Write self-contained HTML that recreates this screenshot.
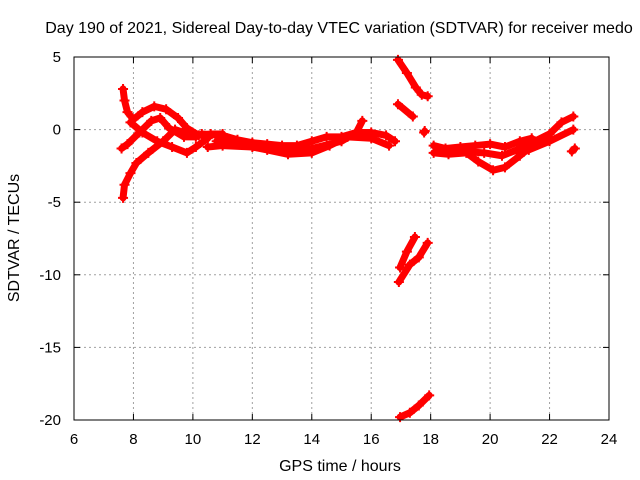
<!DOCTYPE html>
<html><head><meta charset="utf-8"><style>
body{margin:0;background:#fff}
svg{display:block;font-family:"Liberation Sans",sans-serif}
</style></head><body>
<svg id="chart" width="640" height="480">
<rect width="640" height="480" fill="#fff"/>
<text x="339" y="33" font-size="16" text-anchor="middle">Day 190 of 2021, Sidereal Day-to-day VTEC variation (SDTVAR) for receiver medo</text>
<g id="grid"></g>
<g id="series"></g>
<rect x="74" y="57" width="535" height="363" fill="none" stroke="#000" stroke-width="1"/>
<g id="ticks"></g>
<text x="340" y="471" font-size="16" text-anchor="middle">GPS time / hours</text>
<text transform="translate(19,238) rotate(-90)" font-size="16" text-anchor="middle">SDTVAR / TECUs</text>
</svg>
<script>
const xTicks=[6,8,10,12,14,16,18,20,22,24];
const yTicks=[5,0,-5,-10,-15,-20];
const trackA=[[7.65,2.8],[7.7,2],[7.8,1.2],[8.0,0.7],[8.3,1.2],[8.7,1.6],[9.1,1.4],[9.5,0.8],[9.8,0.1],[10.2,-0.4],[10.6,-0.3],[11,-0.3]];
const trackB=[[7.6,-1.3],[7.8,-1.0],[8.2,-0.2],[8.6,0.6],[8.9,0.8],[9.2,0.1],[9.7,-0.5],[10.1,-0.5]];
const trackC=[[7.9,0.5],[8.3,-0.2],[8.8,-0.8],[9.3,-1.2],[9.8,-1.6],[10.1,-1.2],[10.5,-0.6]];
const trackD=[[7.65,-4.7],[7.7,-3.8],[7.9,-3.0],[8.1,-2.3],[8.5,-1.6],[9.0,-0.8],[9.4,0],[9.7,-0.2]];
const bandA=[[10.3,-0.3],[11,-0.4],[11.5,-0.7],[12,-0.9],[12.5,-1.0],[13,-1.1],[13.5,-1.1],[14,-0.8],[14.5,-0.5],[15,-0.5],[15.5,-0.2],[16,-0.2],[16.5,-0.4],[16.8,-0.8]];
const bandB=[[10.5,-1.2],[11,-1.1],[12,-1.2],[13,-1.5],[14,-1.3],[15,-0.8],[15.5,-0.2],[15.7,0.6]];
const bandE=[[10.8,-0.8],[11.5,-1.0],[12.5,-1.4],[13.2,-1.7],[14,-1.6],[14.6,-1.1],[15.2,-0.5],[16,-0.6],[16.6,-1.1]];
const jumpTop=[[16.9,4.8],[17.2,3.9],[17.5,2.9],[17.7,2.4],[17.9,2.3]];
const jumpMid=[[16.9,1.75],[17.4,0.9]];
const dotA=[[17.78,-0.2],[17.8,-0.1]];
const lowA=[[16.97,-9.5],[17.2,-8.4],[17.47,-7.4]];
const lowB=[[16.93,-10.5],[17.3,-9.3],[17.6,-8.8],[17.9,-7.8]];
const lowC=[[16.97,-19.8],[17.3,-19.5],[17.6,-19],[17.95,-18.3]];
const bandC=[[18.1,-1.1],[18.5,-1.3],[19,-1.2],[19.5,-1.1],[20,-1.0],[20.5,-1.2],[21,-0.8],[21.4,-0.6]];
const bandD=[[18.1,-1.6],[18.6,-1.7],[19.2,-1.6],[19.6,-2.2],[20.1,-2.8],[20.5,-2.6],[21,-1.8],[21.3,-1.3]];
const bandF=[[18.3,-1.4],[19,-1.5],[19.8,-1.6],[20.4,-1.8],[20.9,-1.4],[21.3,-1.0]];
const tailA=[[21.5,-0.8],[22,-0.3],[22.4,0.5],[22.8,0.9]];
const tailB=[[21.3,-1.4],[22,-0.8],[22.8,0]];
const dotB=[[22.75,-1.5],[22.85,-1.3]];
const tracks=[trackA,trackB,trackC,trackD,bandA,bandB,bandE,jumpTop,jumpMid,dotA,lowA,lowB,lowC,bandC,bandD,bandF,tailA,tailB,dotB];
const NS='http://www.w3.org/2000/svg';
const X=v=>74+(v-6)/18*535, Y=v=>57+(5-v)/25*363;
const grid=document.getElementById('grid'),ticks=document.getElementById('ticks'),ser=document.getElementById('series');
function mk(t,a,p){const e=document.createElementNS(NS,t);for(const k in a)e.setAttribute(k,a[k]);p.appendChild(e);return e;}
xTicks.forEach(v=>{const x=X(v);
 if(v>6&&v<24){const l=mk('line',{x1:x,x2:x,y1:57,y2:420,stroke:'#a0a0a0','stroke-dasharray':'2,3'},grid);
 
 }
 mk('line',{x1:x,x2:x,y1:420,y2:414,stroke:'#000'},ticks);mk('line',{x1:x,x2:x,y1:57,y2:63,stroke:'#000'},ticks);
 const t=mk('text',{x:x,y:444,'font-size':15,'text-anchor':'middle'},ticks);t.textContent=v;
 
 });
yTicks.forEach(v=>{const y=Y(v);
 if(v<5&&v>-20){const l=mk('line',{x1:74,x2:609,y1:y,y2:y,stroke:'#a0a0a0','stroke-dasharray':'2,3'},grid);
 
 }
 mk('line',{x1:74,x2:80,y1:y,y2:y,stroke:'#000'},ticks);mk('line',{x1:609,x2:603,y1:y,y2:y,stroke:'#000'},ticks);
 const t=mk('text',{x:61,y:y+5,'font-size':15,'text-anchor':'end'},ticks);t.textContent=v;
 
 });
tracks.forEach(tr=>{
 const p=mk('polyline',{points:tr.map(d=>X(d[0])+','+Y(d[1])).join(' '),fill:'none',stroke:'#f00','stroke-width':7,'stroke-linecap':'round','stroke-linejoin':'round'},ser);
 
 
 tr.forEach(d=>{const x=X(d[0]),y=Y(d[1]);
  const m=mk('path',{d:`M${x-5},${y}H${x+5}M${x},${y-5}V${y+5}`,stroke:'#f00','stroke-width':2},ser);
  
  });
});
</script>
</body></html>
